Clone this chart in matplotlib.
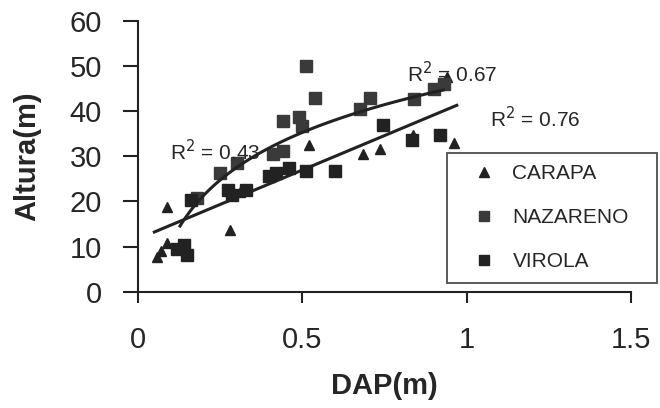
import matplotlib.pyplot as plt
import numpy as np

plt.rcParams['font.family'] = ['Liberation Sans', 'DejaVu Sans']

# DAP (m) vs Altura (m)
carapa_dap = [0.087, 0.057, 0.087, 0.07, 0.28, 0.31, 0.52, 0.685, 0.735, 0.837, 0.963, 0.94]
carapa_alt = [18.8, 7.8, 10.7, 9.0, 13.7, 22.0, 32.6, 30.4, 31.5, 34.8, 33.0, 47.5]

nazareno_dap = [0.51, 0.54, 0.44, 0.49, 0.50, 0.675, 0.705, 0.84, 0.90, 0.93, 0.41, 0.44, 0.25, 0.30, 0.18]
nazareno_alt = [50.0, 43.0, 37.8, 38.6, 36.7, 40.4, 43.0, 42.6, 44.8, 46.0, 30.5, 31.1, 26.3, 28.5, 20.7]

virola_dap = [0.745, 0.92, 0.835, 0.51, 0.60, 0.42, 0.40, 0.275, 0.285, 0.33, 0.16, 0.14, 0.148, 0.12, 0.46]
virola_alt = [37.0, 34.8, 33.5, 26.7, 26.7, 26.4, 25.6, 22.6, 21.5, 22.6, 20.3, 10.4, 8.2, 9.5, 27.5]

# trend lines (coefficients)
log_a, log_b, log_x = 45.8, 15.2, (0.128, 0.93)    # y = a + b ln(x)
lin_a, lin_b, lin_x = 11.7, 30.5, (0.05, 0.97)     # y = a + b x

r2_labels = ['R$^2$ = 0.43', 'R$^2$ = 0.67', 'R$^2$ = 0.76']
r2_pos = [(0.097, 31.0), (0.82, 48.4), (1.07, 38.4)]

ink = '#222222'
txt = '#262626'

fig = plt.figure(figsize=(6.6, 4.08), dpi=100)
ax = fig.add_axes([0.209, 0.285, 0.747, 0.664])

ax.plot(carapa_dap, carapa_alt, '^', color=ink, markersize=7.5, label='CARAPA', zorder=3)
ax.plot(nazareno_dap, nazareno_alt, 's', color='#3a3a3a', markersize=8.5, label='NAZARENO', zorder=3)
ax.plot(virola_dap, virola_alt, 's', color=ink, markersize=8.5, label='VIROLA', zorder=3)

xl = np.linspace(log_x[0], log_x[1], 100)
ax.plot(xl, log_a + log_b * np.log(xl), color=ink, lw=2.2, zorder=4)
xs = np.array(lin_x)
ax.plot(xs, lin_a + lin_b * xs, color=ink, lw=2.2, zorder=4)

for lab, (x, y) in zip(r2_labels, r2_pos):
    ax.text(x, y, lab, fontsize=15, color=txt, va='center', ha='left')

ax.set_xlim(0, 1.5)
ax.set_ylim(0, 60)
ax.set_xticks([0, 0.5, 1, 1.5])
ax.set_xticklabels(['0', '0.5', '1', '1.5'])
ax.set_yticks(range(0, 61, 10))
for s in ['top', 'right']:
    ax.spines[s].set_visible(False)
for s in ['left', 'bottom']:
    ax.spines[s].set_linewidth(1.5)
    ax.spines[s].set_color(ink)
ax.tick_params(axis='y', direction='out', length=11, width=1.5, labelsize=21, colors=ink, labelcolor=txt, pad=15)
ax.tick_params(axis='x', direction='out', length=8, width=1.5, labelsize=21, colors=ink, labelcolor=txt, pad=17)

ax.set_xlabel('DAP(m)', fontsize=21, fontweight='bold', color=txt, labelpad=13)
ax.set_ylabel('Altura(m)', fontsize=21, fontweight='bold', color=txt, labelpad=20)

leg = ax.legend(loc='upper left', bbox_to_anchor=(0.677, 0.306, 0.318, 0.319), mode='expand',
                bbox_transform=fig.transFigure, fontsize=15, frameon=True, fancybox=False,
                edgecolor=ink, labelspacing=1.2, handlelength=2.5, handletextpad=0.1,
                borderpad=0.55, borderaxespad=0, markerscale=0.9)
leg.get_frame().set_linewidth(1.3)
for t in leg.get_texts():
    t.set_color(txt)

fig.savefig('out.png', dpi=100, facecolor='white')
